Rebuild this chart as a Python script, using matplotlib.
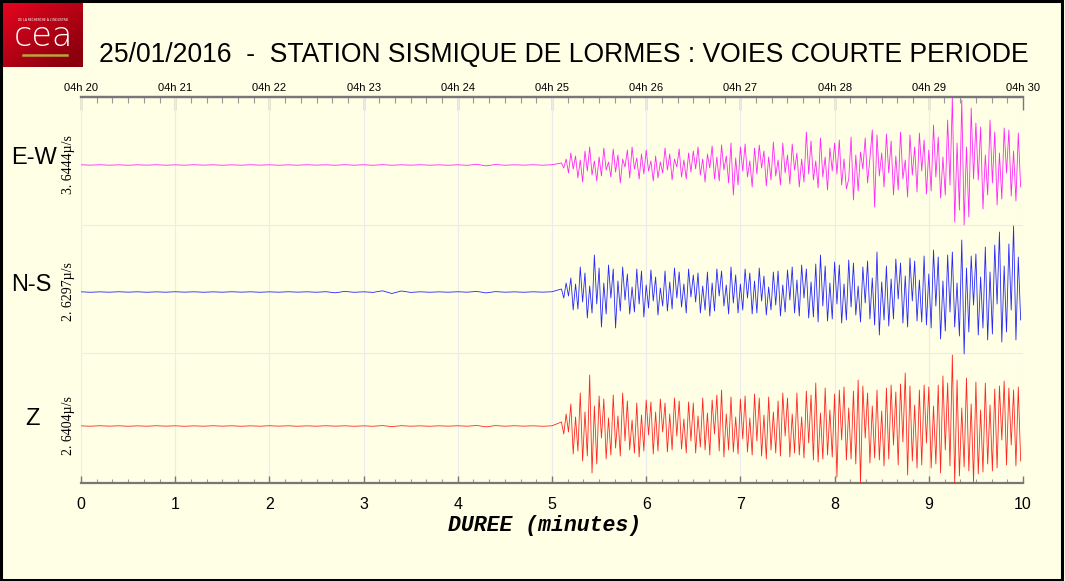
import numpy as np
import matplotlib
matplotlib.use('Agg')
import matplotlib.pyplot as plt
from matplotlib.ticker import MultipleLocator
from matplotlib.patches import Rectangle
import matplotlib.transforms as mtransforms

# ---- data (amplitudes, in pixel-like counts) ----
channels = ['E-W', 'N-S', 'Z']
amp_labels = ['3. 6444\u00b5/s', '2. 6297\u00b5/s', '2. 6404\u00b5/s']
colors = ['#ff00ff', '#0000ff', '#ff0000']
top_labels = ['04h 20', '04h 21', '04h 22', '04h 23', '04h 24', '04h 25',
              '04h 26', '04h 27', '04h 28', '04h 29', '04h 30']
minutes = list(range(11))

# quiet part, one value every 0.1 minute from 0 to 5.0
t_quiet = np.linspace(0, 5.0, 51)
ew_quiet = [0.2, -0.15, 0.25, -0.2, 0.15, -0.25, 0.2, -0.15, 0.25, -0.2,
            0.15, -0.2, 0.25, -0.15, 0.2, -0.25, 0.15, -0.2, 0.25, -0.15,
            0.2, -0.25, 0.15, -0.2, 0.25, -0.15, 0.2, -0.25, 0.3, -0.2,
            0.25, -0.3, 0.35, -0.25, 0.2, -0.15, 0.25, -0.2, 0.15, -0.25,
            0.2, -0.3, 0.7, -0.9, 0.5, -0.25, 0.2, -0.15, 0.25, -0.2,
            0.25]
ns_quiet = [0.2, -0.25, 0.15, -0.2, 0.25, -0.15, 0.2, -0.25, 0.15, -0.2,
            0.25, -0.15, 0.2, -0.25, 0.15, -0.2, 0.25, -0.15, 0.2, -0.25,
            0.15, -0.2, 0.25, -0.15, 0.2, -0.25, 0.3, -0.8, 0.6, -0.3,
            0.2, -0.4, 1.2, -1.5, 1.0, -0.4, 0.2, -0.25, 0.15, -0.2,
            0.25, -0.2, 0.6, -0.9, 0.4, -0.2, 0.15, -0.25, 0.2, -0.15,
            0.25]
z_quiet = [0.15, -0.2, 0.25, -0.15, 0.2, -0.25, 0.15, -0.2, 0.25, -0.15,
           0.2, -0.25, 0.15, -0.2, 0.25, -0.15, 0.2, -0.25, 0.15, -0.2,
           0.25, -0.15, 0.2, -0.25, 0.15, -0.2, 0.25, -0.15, 0.2, -0.25,
           0.15, -0.25, 0.4, -0.6, 0.3, -0.2, 0.15, -0.25, 0.2, -0.15,
           0.25, -0.2, 0.5, -0.8, 0.4, -0.2, 0.25, -0.15, 0.2, -0.25,
           0.2]

# active part, one value every 0.025 minute from 5.1 to 9.975
t_active = np.linspace(5.1, 9.975, 196)
ew_active = [
    2, -3, 6, -8, 12, -4, 9, -13, 5, -17, 14, -6, 18, -10, 4, -16,
    8, -11, 17, -5, 3, -12, 16, -7, 10, -18, 6, -2, 15, -13, 18, -4, 7, -14, 11, -9,
    15, -6, 4, -16, 9, -13, 3, -8, 17, -5, 11, -15, 6, -2, 16, -12, 5, -14, 12, -7,
    14, -4, 18, -10, 6, -17, 11, -3, 19, -14, 8, -16, 20, -5, 9, -18, 22, -30, 7, -20,
    18, -6, 21, -12, 4, -22, 17, -9, 20, -3, 14, -21, 8, -15, 23, -11, 5, -20, 22, -8,
    10, -19, 21, -5, 12, -22, 6, -17, 33, -9, 24, -15, 4, -23, 27, -12, 8, -25, 17, -6,
    22, -9, 25, -20, 6, -24, -14, 28, -35, 10, -26, 13, -4, 27, -18, 7, 35, -42, 30, -11,
    12, -22, 31, -8, 24, -30, 9, -25, 33, -14, 5, -32, 30, -10, 18, -27, 32, -6, 25, -29,
    15, -26, 40, -12, 28, -33, 8, -30, 45, -20, 67, -57, 22, -45, 65, -60, 18, -52, 57, -14,
    42, -15, 38, -44, 10, -30, 45, -18, 33, -40, 12, -34, 37, -8, 35, -31, 14, -36, 32, -22]
ns_active = [
    3, -6, 9, -4, 14, -18, 8, -17, 25, -10, 19, -26, 6, -21, 37, -12,
    24, -35, 9, -22, 27, -6, 23, -36, 11, -19, 25, -8, 18, -22, 5, -20, 23, -12, 21, -25,
    7, -16, 22, -9, 15, -23, 4, -14, 21, -19, 10, -17, 24, -6, 20, -15, 8, -21, 23, -5,
    17, -10, 19, -21, 6, -18, 20, -24, 9, -19, 23, -4, 21, -14, 7, -22, 25, -11, 17, -21,
    8, -18, 23, -6, 19, -22, 11, -21, 24, -9, 16, -23, 5, -18, 20, -13, 21, -24, 7, -20,
    22, -8, 25, -21, 12, -24, 27, -6, 23, -26, 10, -25, 28, -30, 37, -14, 26, -29, 9, -27,
    30, -12, 27, -31, 8, -28, 32, -15, 29, -23, 6, -30, 25, -11, 31, -27, 14, -33, 40, -43,
    10, -28, 26, -34, 13, -27, 33, -7, 29, -31, 16, -35, 34, -9, 31, -29, 12, -30, 36, -33,
    18, -36, 42, -14, 35, -47, 11, -39, 37, -20, 40, -35, 9, -44, 52, -62, 24, -40, 36, -13,
    38, -43, 15, -36, 45, -48, 20, -42, 47, -12, 60, -50, 26, -40, 48, -18, 66, -48, 35, -28]
z_active = [
    4, -8, 12, -6, 22, -28, 9, -25, 33, -35, 14, -30, 51, -47, 20, -38,
    30, -12, 27, -33, 8, -29, 31, -22, 10, -30, 33, -15, 25, -24, 6, -27, 23, -31, 11, -25,
    26, -9, 24, -28, 14, -25, 27, -6, 23, -26, 12, -24, 28, -10, 25, -23, 7, -27, 24, -15,
    23, -27, 10, -21, 28, -24, 13, -29, 26, -8, 31, -25, 36, -31, 12, -24, 29, -26, 9, -28,
    27, -13, 30, -26, 8, -29, 32, -15, 28, -30, 11, -33, 29, -24, 14, -27, 25, -30, 33, -10,
    28, -31, 12, -27, 33, -29, 9, -32, 35, -17, 31, -34, 43, -36, 13, -33, 38, -29, 16, -31,
    32, -51, 36, -14, 39, -34, 18, -33, 35, -38, 46, -57, 40, -12, 33, -37, 20, -32, 36, -34,
    15, -40, 38, -33, 41, -19, 34, -39, 42, -16, 53, -49, 40, -35, 21, -42, 36, -39, 41, -17,
    39, -42, 20, -38, 41, -47, 50, -24, 43, -40, 71, -57, 46, -50, 18, -41, 48, -45, 22, -56,
    44, -48, 16, -46, 43, -38, 21, -45, 37, -42, 40, -14, 45, -39, 38, -19, 36, -40, 39, -35]

quiet = [ew_quiet, ns_quiet, z_quiet]
active = [ew_active, ns_active, z_active]

# ---- layout ----
bg = '#ffffe6'
W, H = 1065, 581
baselines = [318, 191, 57]          # trace offsets inside the axes (height 386)
separators = [258, 130]

fig = plt.figure(figsize=(W / 100, H / 100), dpi=100, facecolor=bg)
ax = fig.add_axes([81 / W, 1 - 483 / H, 942 / W, 386 / H], facecolor=bg)

t_all = np.concatenate([t_quiet, t_active])
for i in range(3):
    y = np.concatenate([quiet[i], active[i]]) + baselines[i]
    ax.plot(t_all, y, color=colors[i], lw=0.6, alpha=0.85, zorder=3)

ax.set_xlim(0, 10)
ax.set_ylim(0, 386)
ax.set_yticks([])

# faint grid
for m in minutes:
    ax.axvline(m, color='#ececf0', lw=0.8, zorder=1)
for s in separators:
    ax.axhline(s, color='#ececf0', lw=0.8, zorder=1)

for side in ['left', 'right']:
    ax.spines[side].set_visible(False)
for side in ['top', 'bottom']:
    ax.spines[side].set_color('#777777')
    ax.spines[side].set_linewidth(1.6)

ax.set_xticks(minutes)
ax.set_xticklabels([str(m) for m in minutes], family='Liberation Sans', fontsize=11.5)
ax.xaxis.set_minor_locator(MultipleLocator(1 / 6))
ax.tick_params(axis='x', which='major', direction='in', length=5, width=1, color='#777777', pad=10)
ax.tick_params(axis='x', which='minor', direction='in', length=3, width=0.8, color='#999999')
ax.set_xlabel('DUREE (minutes)', family='Liberation Mono', fontweight='bold',
              fontstyle='italic', fontsize=15.5)
ax.xaxis.set_label_coords(0.4925, -0.083)

top = ax.secondary_xaxis('top')
top.set_xticks(minutes)
top.set_xticklabels(top_labels, family='Liberation Sans', fontsize=8)
top.xaxis.set_minor_locator(MultipleLocator(1 / 6))
top.tick_params(axis='x', which='major', direction='in', length=9, width=1, color='#777777', pad=3)
top.tick_params(axis='x', which='minor', direction='in', length=4, width=0.8, color='#999999')
top.spines['top'].set_color('#777777')
top.spines['top'].set_linewidth(1.6)

# channel names and amplitude labels
trans = mtransforms.blended_transform_factory(ax.transAxes, ax.transData)
name_x = [-0.050, -0.053, -0.052]
for i in range(3):
    ax.text(name_x[i], baselines[i] + 7, channels[i], transform=trans, ha='center',
            va='center', fontsize=17, family='Liberation Sans')
    ax.text(-0.0135, baselines[i], amp_labels[i], transform=trans, ha='center',
            va='center', rotation=90, fontsize=10, family='Liberation Serif')

fig.text(0.5291, 1 - 55 / H, '25/01/2016  -  STATION SISMIQUE DE LORMES : VOIES COURTE PERIODE',
         ha='center', va='center', fontsize=19.1, family='Liberation Sans')

# cea logo
logo = fig.add_axes([3 / W, 1 - 67 / H, 80 / W, 64 / H])
gx, gy = np.meshgrid(np.linspace(0, 1, 80), np.linspace(0, 1, 64))
grad = np.clip(0.55 * gx + 0.6 * gy, 0, 1)
c0 = np.array([0.90, 0.02, 0.12])
c1 = np.array([0.55, 0.00, 0.05])
img = c0[None, None, :] * (1 - grad[..., None]) + c1[None, None, :] * grad[..., None]
logo.imshow(img, extent=(0, 80, 64, 0), aspect='auto')
logo.set_xlim(0, 80)
logo.set_ylim(64, 0)
logo.axis('off')
logo.text(40, 34, 'cea', color='white', ha='center', va='center', fontsize=24,
          family='DejaVu Sans', fontweight='light')
logo.text(40, 17, "DE LA RECHERCHE \u00c0 L'INDUSTRIE", color='white', ha='center',
          va='center', fontsize=2.2)
logo.plot([20, 64], [52, 52], color='#b8a640', lw=1.8)

# frame around the figure
fig.patches.append(Rectangle((0.001, 0.002), 0.996, 0.996, transform=fig.transFigure,
                             fill=False, edgecolor='black', lw=2.2))

fig.savefig('out.png', dpi=100, facecolor=bg)
